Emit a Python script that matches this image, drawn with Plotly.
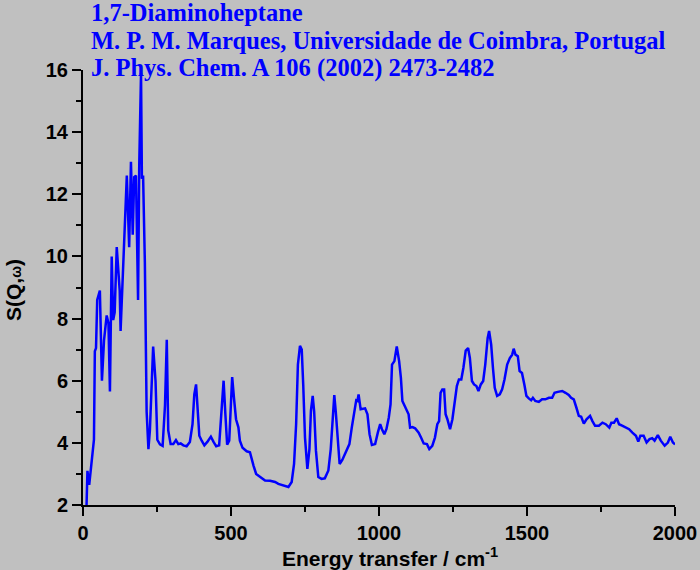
import plotly.graph_objects as go

# energy transfer (cm-1) and S(Q,w)
energy = [12, 15, 21, 29, 37, 40, 44, 48, 57, 64, 71, 80, 86, 91, 97, 102, 107, 114, 119, 124,
          127, 134, 141, 148, 156, 162, 168, 173, 179, 186, 190, 196, 199, 203, 209, 215, 221, 226,
          237, 245, 251, 260, 269, 277, 283, 288, 296, 305, 314, 322, 330, 339, 350, 361, 370,
          376, 382, 387, 393, 401, 410, 420, 432, 441, 450, 460, 468, 475, 481, 487, 494, 500,
          504, 510, 517, 525, 530, 539, 553, 564, 570, 576, 585, 598, 615, 632, 649, 660, 677,
          694, 705, 713, 720, 726, 733, 739, 744, 750, 758, 765, 770, 776, 781, 787, 795, 806,
          817, 829, 837, 844, 849, 854, 860, 867, 876, 884, 895, 900, 908, 916, 923, 927, 931,
          938, 944, 953, 961, 968, 976, 987, 996, 1004, 1010, 1018, 1025, 1033, 1039, 1044,
          1052, 1060, 1068, 1074, 1079, 1086, 1094, 1100, 1105, 1113, 1122, 1134, 1142, 1151,
          1162, 1170, 1180, 1189, 1197, 1203, 1208, 1214, 1220, 1225, 1231, 1240, 1248, 1256,
          1263, 1270, 1278, 1285, 1293, 1301, 1307, 1314, 1321, 1329, 1336, 1344, 1352, 1359,
          1367, 1372, 1379, 1385, 1391, 1399, 1408, 1416, 1424, 1433, 1442, 1450, 1455, 1461,
          1469, 1475, 1483, 1491, 1498, 1506, 1514, 1520, 1528, 1540, 1551, 1562, 1574, 1585,
          1593, 1604, 1619, 1630, 1641, 1649, 1658, 1667, 1675, 1683, 1692, 1701, 1713, 1721,
          1730, 1743, 1755, 1766, 1778, 1785, 1794, 1803, 1811, 1823, 1834, 1845, 1856, 1868,
          1876, 1883, 1894, 1904, 1914, 1923, 1931, 1942, 1952, 1965, 1976, 1984, 1993, 2000]
sqw = [2.0, 3.1, 2.65, 3.5, 4.1, 6.95, 7.05, 8.6, 8.9, 6.0, 7.3, 8.1, 7.85, 5.65, 10.0, 7.95,
       8.2, 10.3, 9.5, 8.9, 7.6, 9.2, 10.6, 12.6, 10.3, 13.05, 10.7, 12.55, 12.6, 8.6, 12.95,
       15.9, 12.5, 12.6, 9.8, 5.0, 3.8, 4.4, 7.1, 6.0, 4.1, 3.95, 3.9, 5.2, 7.32, 4.4, 3.96,
       3.96, 4.09, 3.96, 3.98, 3.92, 3.89, 4.03, 4.6, 5.56, 5.88, 5.24, 4.23, 4.07, 3.92, 4.03,
       4.2, 4.03, 3.89, 3.92, 5.24, 6.0, 4.92, 3.94, 4.07, 5.24, 6.12, 5.45, 4.76, 4.5, 4.07,
       3.84, 3.73, 3.7, 3.43, 3.27, 3.0, 2.9, 2.79, 2.78, 2.74, 2.68, 2.63, 2.58, 2.74, 3.32,
       4.6, 6.52, 7.12, 7.0, 5.88, 4.17, 3.16, 3.8, 5.03, 5.51, 5.0, 3.75, 2.9, 2.84, 2.86,
       3.11, 3.8, 4.92, 5.54, 5.0, 4.07, 3.32, 3.45, 3.64, 3.85, 3.96, 4.49, 5.03, 5.37, 5.35,
       5.56, 5.08, 5.1, 5.11, 4.92, 4.28, 3.93, 3.96, 4.33, 4.6, 4.44, 4.28, 4.44, 4.81, 5.24,
       6.52, 6.63, 7.1, 6.63, 6.09, 5.35, 5.19, 5.03, 4.92, 4.49, 4.51, 4.47, 4.33, 4.17,
       3.98, 3.96, 3.8, 3.9, 4.17, 4.6, 4.7, 5.61, 5.72, 5.72, 4.92, 4.76, 4.44, 4.76, 5.35,
       5.83, 6.04, 6.04, 6.41, 6.97, 7.05, 6.73, 5.99, 5.88, 5.83, 5.67, 5.88, 5.99, 6.52,
       7.37, 7.6, 7.16, 6.41, 5.77, 5.51, 5.56, 5.72, 6.04, 6.52, 6.73, 6.84, 7.03, 6.84,
       6.79, 6.31, 6.25, 5.88, 5.51, 5.43, 5.37, 5.45, 5.35, 5.32, 5.4, 5.4, 5.45, 5.45,
       5.61, 5.64, 5.67, 5.61, 5.54, 5.45, 5.4, 5.13, 4.87, 4.84, 4.62, 4.76, 4.87, 4.7,
       4.55, 4.55, 4.65, 4.6, 4.49, 4.65, 4.65, 4.79, 4.6, 4.55, 4.49, 4.44, 4.33, 4.23,
       4.04, 4.23, 4.23, 4.01, 4.12, 4.15, 4.07, 4.25, 4.07, 3.91, 4.01, 4.2, 4.01, 3.95]

title_lines = ['1,7-Diaminoheptane',
               'M. P. M. Marques, Universidade de Coimbra, Portugal',
               'J. Phys. Chem. A 106 (2002) 2473-2482']

grey = '#c0c0c0'
sans = 'Arial, Liberation Sans, sans-serif'
serif = 'Times New Roman, Liberation Serif, serif'

# plot box in page pixels: x 83..675, y 70..505
plot_h = 435

fig = go.Figure()
fig.add_trace(go.Scatter(x=energy, y=sqw, mode='lines',
                         line=dict(color='#0000ff', width=2.5),
                         showlegend=False))

axis_common = dict(showgrid=False, zeroline=False, showline=True, automargin=False,
                   linecolor='black', linewidth=2,
                   ticks='outside', ticklen=9, tickwidth=2, tickcolor='black',
                   tickfont=dict(family=sans, size=20, color='black', weight='bold'))

fig.update_xaxes(range=[0, 2000], dtick=500, tick0=0,
                 minor=dict(dtick=250, ticks='outside', ticklen=5, tickwidth=2, tickcolor='black'),
                 **axis_common)
fig.update_yaxes(range=[2, 16], dtick=2, tick0=2,
                 minor=dict(dtick=1, ticks='outside', ticklen=5, tickwidth=2, tickcolor='black'),
                 **axis_common)

annotations = []
# title block, one annotation per line
for i, line in enumerate(title_lines):
    annotations.append(dict(text='<b>' + line + '</b>', xref='paper', yref='paper',
                            x=0.01, y=(505 - (12.5 + 27.8 * i)) / plot_h,
                            xanchor='left', yanchor='middle', showarrow=False,
                            font=dict(family=serif, size=24.5, color='#0000ff')))
# axis titles
annotations.append(dict(text='<b>Energy transfer / cm<sup>-1</sup></b>',
                        xref='paper', yref='paper', x=(390 - 83) / 592, y=-52 / plot_h,
                        xanchor='center', yanchor='middle', showarrow=False,
                        font=dict(family=sans, size=21, color='black')))
annotations.append(dict(text="<b>S(Q,<span style='font-size:14px'>ω</span>)</b>",
                        xref='paper', yref='paper', x=(13 - 83) / 592, y=(505 - 290) / plot_h,
                        xanchor='center', yanchor='middle', textangle=-90, showarrow=False,
                        font=dict(family=sans, size=21, color='black')))

fig.update_layout(width=700, height=570,
                  margin=dict(l=83, r=25, t=70, b=65),
                  paper_bgcolor=grey, plot_bgcolor=grey,
                  annotations=annotations)

fig.write_html('out.html', config={'displayModeBar': False},
               post_script="document.body.style.margin='0';document.body.style.background='#c0c0c0';")
